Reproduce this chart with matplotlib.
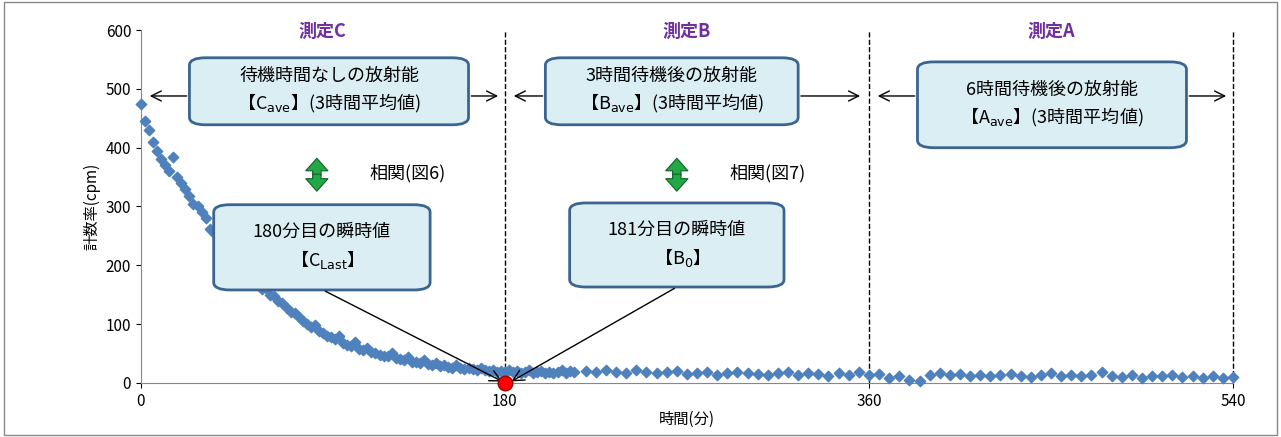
import numpy as np
import matplotlib.pyplot as plt
from matplotlib.patches import FancyBboxPatch, Rectangle

plt.rcParams['font.family'] = ['Noto Sans CJK JP', 'DejaVu Sans']

# datas: first 214 minutes, every 2 minutes
cpm1 = [475, 445, 430, 410, 395, 380, 370, 360, 385, 350, 340,
        330, 318, 305, 300, 290, 280, 262, 255, 245, 240,
        232, 225, 215, 210, 200, 195, 185, 180, 172, 160,
        162, 150, 148, 140, 135, 128, 120, 118, 112, 105,
        100, 95, 98, 88, 85, 80, 78, 75, 80, 68,
        65, 62, 70, 58, 55, 60, 52, 50, 48, 46,
        45, 50, 42, 40, 38, 44, 36, 35, 34, 38,
        32, 30, 34, 28, 30, 27, 26, 30, 25, 24,
        26, 23, 22, 25, 21, 20, 22, 19, 20, 18,
        22, 18, 20, 17, 19, 21, 16, 18, 20, 17,
        19, 16, 18, 22, 17, 20, 19]
t1 = np.arange(len(cpm1)) * 2
# later, every 5 minutes
cpm2 = [20, 18, 22, 19, 17, 21, 18, 16, 19, 20,
        15, 17, 18, 14, 16, 19, 17, 15, 13, 16,
        18, 14, 17, 15, 12, 16, 14, 18, 13, 15,
        8, 12, 5, 3, 14, 16, 13, 15, 12, 14,
        11, 13, 15, 12, 10, 14, 16, 12, 13, 11,
        14, 18, 12, 10, 13, 9, 12, 11, 14, 10,
        12, 8, 11, 9, 10]
t2 = 220 + np.arange(len(cpm2)) * 5

fig = plt.figure(figsize=(12.81, 4.37), dpi=100)
ax = fig.add_axes([0.110, 0.124, 0.8525, 0.807])
fig.patches.append(Rectangle((0.003, 0.005), 0.994, 0.99, transform=fig.transFigure,
                             fill=False, edgecolor='#888888', lw=1))

ax.scatter(t1, cpm1, marker='D', s=28, color='#4f81bd', clip_on=False, zorder=3)
ax.scatter(t2, cpm2, marker='D', s=28, color='#4f81bd', clip_on=False, zorder=3)
ax.scatter([180], [0], s=110, color='red', edgecolor='#990000', clip_on=False, zorder=6)

ax.set_xlim(0, 540)
ax.set_ylim(0, 600)
ax.set_xticks([0, 180, 360, 540])
ax.set_yticks(range(0, 601, 100))
for s in ['top', 'right']:
    ax.spines[s].set_visible(False)
ax.spines['left'].set_color('#888888')
ax.spines['bottom'].set_color('#888888')
ax.tick_params(labelsize=11)
ax.set_xlabel('時間(分)', fontsize=11, labelpad=1)
ax.set_ylabel('計数率(cpm)', fontsize=11)

for x in [180, 360, 540]:
    ax.plot([x, x], [0, 600], 'k--', lw=1, zorder=2, clip_on=False)

def box(x0, x1, y0, y1, txt):
    ax.add_patch(FancyBboxPatch((x0, y0), x1 - x0, y1 - y0,
                                boxstyle='round,pad=0,rounding_size=8',
                                mutation_aspect=1.6,
                                fc='#dbeef4', ec='#3b6591', lw=2, zorder=4))
    ax.text((x0 + x1) / 2, (y0 + y1) / 2, txt, ha='center', va='center',
            fontsize=13, zorder=5, linespacing=1.4)

box(24, 162, 439, 553, '待機時間なしの放射能\n【C$_{\\rm ave}$】(3時間平均値)')
box(200, 325, 439, 553, '3時間待機後の放射能\n【B$_{\\rm ave}$】(3時間平均値)')
box(384, 517, 400, 546, '6時間待機後の放射能\n【A$_{\\rm ave}$】(3時間平均値)')
box(36, 143, 158, 303, '180分目の瞬時値\n【C$_{\\rm Last}$】')
box(212, 318, 163, 306, '181分目の瞬時値\n【B$_{0}$】')

arr = dict(arrowstyle='->', color='black', lw=1, mutation_scale=18)
for a, b in [(24, 3), (162, 178), (200, 183), (325, 357), (384, 363), (517, 538)]:
    ax.annotate('', xy=(b, 488), xytext=(a, 488), arrowprops=arr, zorder=3)

green = dict(arrowstyle='simple,head_width=1.6,head_length=0.9,tail_width=0.6',
             fc='#22a845', ec='#11602a', lw=0.8, mutation_scale=10,
             shrinkA=0, shrinkB=0)
for x in [87, 265]:
    ax.annotate('', xy=(x, 382), xytext=(x, 353), arrowprops=green)
    ax.annotate('', xy=(x, 326), xytext=(x, 355), arrowprops=green)
ax.text(113, 356, '相関(図6)', fontsize=13, va='center')
ax.text(291, 356, '相関(図7)', fontsize=13, va='center')

ax.annotate('', xy=(180, 0), xytext=(90, 158),
            arrowprops=dict(arrowstyle='->', color='black', lw=1, mutation_scale=20), zorder=5)
ax.annotate('', xy=(182, 0), xytext=(265, 163),
            arrowprops=dict(arrowstyle='->', color='black', lw=1, mutation_scale=20), zorder=5)

for x, s in [(90, '測定C'), (270, '測定B'), (450, '測定A')]:
    ax.text(x, 597, s, ha='center', va='center', fontsize=13, color='#7030a0',
            fontweight='bold', clip_on=False)

fig.savefig('out.png', dpi=100)
